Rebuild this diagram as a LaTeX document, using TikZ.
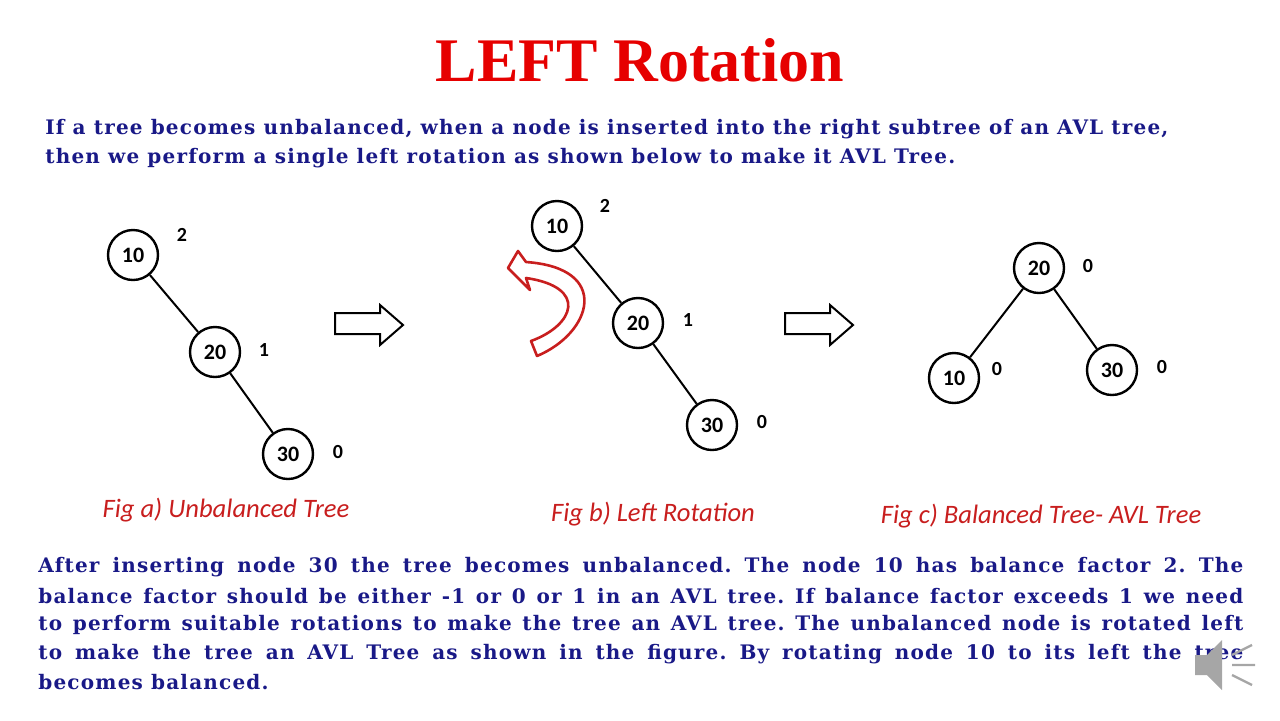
\documentclass[tikz,border=0pt]{standalone}
\usepackage{fontspec}
\setmainfont{Liberation Serif}
\newfontfamily\bodyf[LetterSpace=6]{DejaVu Serif}
\newfontfamily\calf{Carlito}
\definecolor{tred}{RGB}{230,0,0}
\definecolor{cred}{RGB}{200,30,30}
\definecolor{tblue}{RGB}{25,25,135}
\frenchspacing
\begin{document}
\begin{tikzpicture}[x=0.5pt,y=-0.5pt,
  tn/.style={draw,line width=1.2pt,circle,minimum size=25pt,inner sep=0pt,font=\calf\bfseries\fontsize{11}{12}\selectfont},
  bf/.style={font=\calf\bfseries\fontsize{10}{12}\selectfont},
  figcap/.style={font=\calf\itshape\fontsize{13.3}{15}\selectfont,text=cred},
  bl/.style={anchor=west,inner sep=0pt,text=tblue,font=\bodyf\bfseries\fontsize{10}{12}\selectfont\frenchspacing},
  edge/.style={line width=1pt},
  barrow/.style={line width=1pt,fill=white}]
\useasboundingbox (0,0) rectangle (1280,720);
\node[font=\bfseries\fontsize{31}{34}\selectfont,text=tred] (title) at (640,60) {LEFT Rotation};
\node[bl] (p1) at (45,129) {If a tree becomes unbalanced, when a node is inserted into the right subtree of an AVL tree,};
\node[bl] (p2) at (45,158) {then we perform a single left rotation as shown below to make it AVL Tree.};
% fig a
\node[tn] (a10) at (133,255) {10};
\node[tn] (a20) at (215,352) {20};
\node[tn] (a30) at (288,454) {30};
\draw[edge] (a10) -- (a20); \draw[edge] (a20) -- (a30);
\node[bf] (la1) at (182,235) {2};
\node[bf] (la2) at (264,350) {1};
\node[bf] (la3) at (338,452) {0};
\node[figcap] (ca) at (226,510) {Fig a) Unbalanced Tree};
% fig b
\node[tn] (b10) at (557,226) {10};
\node[tn] (b20) at (638,323) {20};
\node[tn] (b30) at (712,425) {30};
\draw[edge] (b10) -- (b20); \draw[edge] (b20) -- (b30);
\node[bf] (lb1) at (605,206) {2};
\node[bf] (lb2) at (688,320) {1};
\node[bf] (lb3) at (762,422) {0};
\node[figcap] (cb) at (653,514) {Fig b) Left Rotation};
% fig c
\node[tn] (c20) at (1039,268) {20};
\node[tn] (c10) at (954,378) {10};
\node[tn] (c30) at (1112,370) {30};
\draw[edge] (c20) -- (c10); \draw[edge] (c20) -- (c30);
\node[bf] (lc1) at (1088,266) {0};
\node[bf] (lc2) at (997,369) {0};
\node[bf] (lc3) at (1162,367) {0};
\node[figcap] (cc) at (1041,516) {Fig c) Balanced Tree- AVL Tree};
% block arrows
\draw[barrow] (335,313) -- (380,313) -- (380,305) -- (403,325) -- (380,345) -- (380,334) -- (335,334) -- cycle;
\draw[barrow] (785,313) -- (830,313) -- (830,305) -- (853,325) -- (830,345) -- (830,334) -- (785,334) -- cycle;
% curved arrow
\draw[cred,line width=1.3pt,line join=round] (537,356) .. controls (592,333) and (612,268) .. (526,262)
  -- (518,251) -- (508,268) -- (530,290) -- (526,278)
  .. controls (588,287) and (575,325) .. (531,341) -- cycle;
% bottom paragraph
\node[bl] (q1) at (38,567) {\hbox to 602.5pt{After inserting node 30 the tree becomes unbalanced. The node 10 has balance factor 2. The}};
\node[bl] (q2) at (38,596) {\hbox to 602.5pt{balance factor should be either -1 or 0 or 1 in an AVL tree. If balance factor exceeds 1 we need}};
\node[bl] (q3) at (38,625) {\hbox to 602.5pt{to perform suitable rotations to make the tree an AVL tree. The unbalanced node is rotated left}};
\node[bl] (q4) at (38,654) {\hbox to 602.5pt{to make the tree an AVL Tree as shown in the figure. By rotating node 10 to its left the tree}};
\node[bl] (q5) at (38,682) {becomes balanced.};
% speaker icon
\fill[gray!70] (1195,655) -- (1207,655) -- (1222,640) -- (1222,690) -- (1207,675) -- (1195,675) -- cycle;
\draw[gray!70,line width=1.2pt] (1232,655) -- (1252,645) (1232,665) -- (1255,665) (1232,675) -- (1252,685);
\end{tikzpicture}
\end{document}
